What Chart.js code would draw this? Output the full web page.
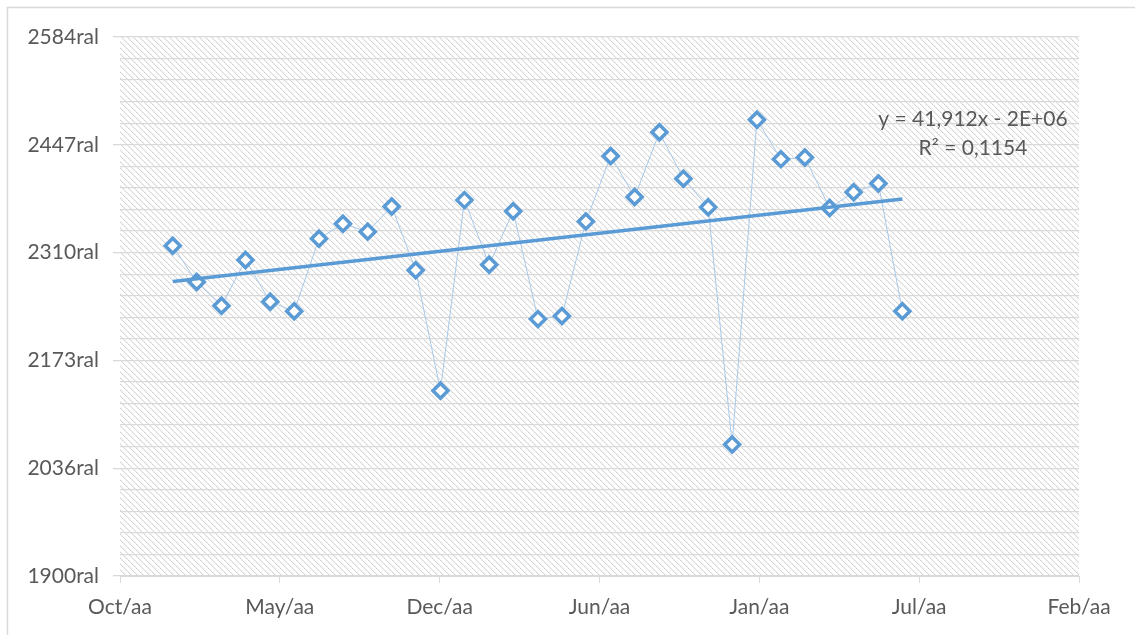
<!DOCTYPE html>
<html>
<head>
<meta charset="utf-8">
<script src="https://cdn.jsdelivr.net/npm/chart.js@4"></script>
<style>
  html, body { margin: 0; padding: 0; background: #ffffff; }
  #wrap { position: relative; width: 1135px; height: 635px; }
</style>
</head>
<body>
<div id="wrap"><canvas id="chart" width="1135" height="635"></canvas></div>
<script>
// Monthly observations: day offset from the first axis tick, and the value
const dayOffsets = [66, 96, 127, 157, 188, 218, 249, 279, 310, 340, 370, 401, 431, 462, 492, 523,
                    553, 583, 614, 644, 675, 705, 736, 766, 797, 827, 857, 888, 918, 949, 979];
const prices = [2319, 2273, 2243, 2301, 2248, 2236, 2328, 2347, 2337, 2369, 2288, 2135, 2377, 2295, 2363, 2226,
                2230, 2350, 2433, 2381, 2463, 2404, 2368, 2067, 2479, 2429, 2431, 2367, 2387, 2398, 2236];

// Axis labelling
const xTickValues = [0, 200, 400, 600, 800, 1000, 1200];
const xTickLabels = ['Oct/aa', 'May/aa', 'Dec/aa', 'Jun/aa', 'Jan/aa', 'Jul/aa', 'Feb/aa'];
const yMin = 1900, yMax = 2584, yMinorCount = 25;
const yTickLabels = ['1900ral', '2036ral', '2173ral', '2310ral', '2447ral', '2584ral'];

// Trendline annotation
const equationLines = ['y = 41,912x - 2E+06', 'R\u00B2 = 0,1154'];

const FONT = 'Lato, "Open Sans", sans-serif';
const TEXT = '#595959';
const GRID = '#d9d9d9';
const BLUE = '#5b9bd5';

// least-squares trend over the observations
function linearFit(xs, ys) {
  const n = xs.length;
  let sx = 0, sy = 0, sxx = 0, sxy = 0;
  for (let i = 0; i < n; i++) { sx += xs[i]; sy += ys[i]; sxx += xs[i] * xs[i]; sxy += xs[i] * ys[i]; }
  const b = (n * sxy - sx * sy) / (n * sxx - sx * sx);
  const a = (sy - b * sx) / n;
  return { a, b };
}
const fit = linearFit(dayOffsets, prices);
const firstX = dayOffsets[0], lastX = dayOffsets[dayOffsets.length - 1];
const trendPoints = [
  { x: firstX, y: fit.a + fit.b * firstX },
  { x: lastX, y: fit.a + fit.b * lastX }
];
const seriesPoints = dayOffsets.map((d, i) => ({ x: d, y: prices[i] }));

// diagonal hatch used as the plot area fill
function makeHatch() {
  const s = 6;
  const c = document.createElement('canvas');
  c.width = s; c.height = s;
  const g = c.getContext('2d');
  g.fillStyle = '#ffffff';
  g.fillRect(0, 0, s, s);
  for (let i = 0; i < s; i++) {
    g.fillStyle = i % 2 === 0 ? '#d2d2d2' : '#dedede';
    g.fillRect(i, i, 1, 1);
    g.fillStyle = '#f1f1f1';
    g.fillRect((i + 1) % s, i, 1, 1);
  }
  return c;
}

const backdrop = {
  id: 'backdrop',
  beforeDraw(chart) {
    const { ctx, chartArea: a } = chart;
    ctx.save();
    ctx.fillStyle = '#ffffff';
    ctx.fillRect(0, 0, chart.width, chart.height);
    ctx.strokeStyle = GRID;
    ctx.lineWidth = 1.5;
    ctx.strokeRect(7.5, 7.5, chart.width + 20, chart.height + 20);
    ctx.fillStyle = ctx.createPattern(makeHatch(), 'repeat');
    ctx.fillRect(a.left, a.top, a.right - a.left, a.bottom - a.top);
    ctx.restore();
  }
};

const trendLabel = {
  id: 'trendLabel',
  afterDatasetsDraw(chart) {
    const { ctx, chartArea: a } = chart;
    ctx.save();
    ctx.font = '21px ' + FONT;
    ctx.fillStyle = TEXT;
    ctx.textAlign = 'center';
    ctx.textBaseline = 'middle';
    const cx = a.right - 106;
    ctx.fillText(equationLines[0], cx, a.top + 82);
    ctx.fillText(equationLines[1], cx, a.top + 111);
    ctx.restore();
  }
};

new Chart(document.getElementById('chart'), {
  type: 'line',
  data: {
    datasets: [
      {
        label: 'Trend',
        data: trendPoints,
        borderColor: BLUE,
        borderWidth: 3.5,
        pointRadius: 0,
        fill: false,
        order: 0
      },
      {
        label: 'Value',
        data: seriesPoints,
        borderColor: '#a9c9ea',
        borderWidth: 1,
        pointStyle: 'rectRot',
        pointRadius: 7.5,
        pointBorderWidth: 3.5,
        pointBorderColor: BLUE,
        pointBackgroundColor: '#ffffff',
        tension: 0,
        fill: false,
        order: 1
      }
    ]
  },
  options: {
    responsive: false,
    animation: false,
    events: [],
    layout: { padding: { top: 37, right: 56, bottom: 0, left: 0 } },
    plugins: { legend: { display: false }, tooltip: { enabled: false } },
    scales: {
      x: {
        type: 'linear',
        min: xTickValues[0],
        max: xTickValues[xTickValues.length - 1],
        afterBuildTicks(scale) { scale.ticks = xTickValues.map(v => ({ value: v })); },
        afterFit(scale) { scale.height = 59; },
        grid: { drawOnChartArea: false, drawTicks: true, tickLength: 7, color: GRID, lineWidth: 1 },
        border: { display: true, color: GRID, width: 1 },
        ticks: {
          autoSkip: false,
          maxRotation: 0,
          padding: 12,
          color: TEXT,
          font: { family: FONT, size: 21 },
          callback: (v, i) => xTickLabels[i]
        }
      },
      y: {
        type: 'linear',
        min: yMin,
        max: yMax,
        afterBuildTicks(scale) {
          const t = [];
          for (let k = 0; k <= yMinorCount; k++) t.push({ value: yMin + (yMax - yMin) * k / yMinorCount });
          scale.ticks = t;
        },
        afterFit(scale) { scale.width = 120; },
        grid: {
          color: GRID,
          lineWidth: 1.3,
          drawTicks: true,
          tickLength: 7,
          tickColor: c => (c.index % 5 === 0 ? GRID : 'rgba(0,0,0,0)')
        },
        border: { display: false },
        ticks: {
          autoSkip: false,
          padding: 14,
          color: TEXT,
          font: { family: FONT, size: 21 },
          callback: (v, i) => (i % 5 === 0 ? yTickLabels[i / 5] : '')
        }
      }
    }
  },
  plugins: [backdrop, trendLabel]
});
</script>
</body>
</html>
